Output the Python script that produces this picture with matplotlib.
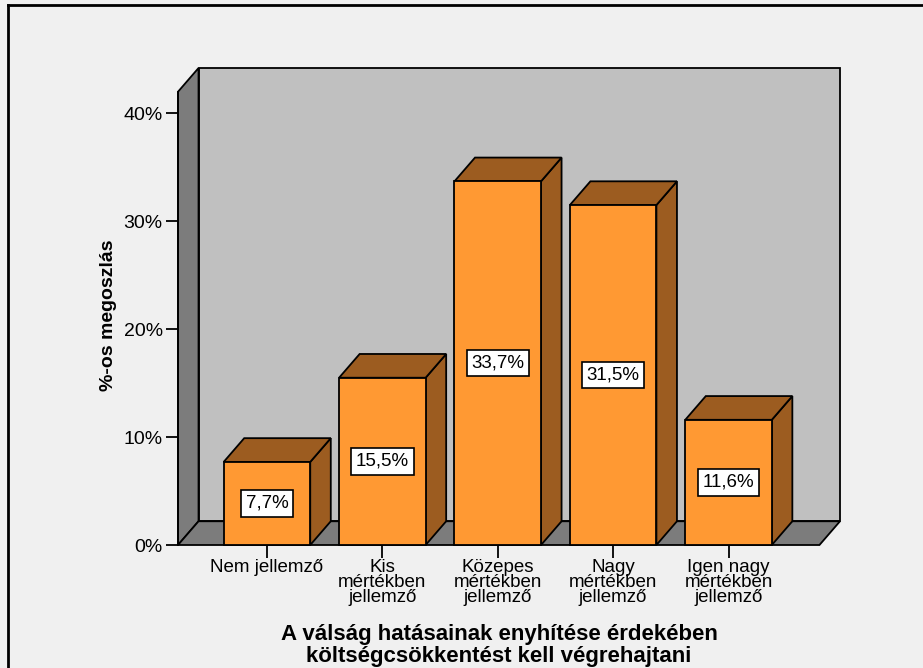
import matplotlib
matplotlib.use("Agg")
import matplotlib.pyplot as plt
from matplotlib.patches import Polygon, Rectangle
from matplotlib.lines import Line2D

plt.rcParams['font.family'] = ['Liberation Sans', 'DejaVu Sans']

categories = ["Nem jellemző",
              "Kis\nmértékben\njellemző",
              "Közepes\nmértékben\njellemző",
              "Nagy\nmértékben\njellemző",
              "Igen nagy\nmértékben\njellemző"]
values = [7.7, 15.5, 33.7, 31.5, 11.6]
value_labels = ["7,7%", "15,5%", "33,7%", "31,5%", "11,6%"]
y_ticks = [0, 10, 20, 30, 40]
y_ticklabels = ["0%", "10%", "20%", "30%", "40%"]
y_title = "%-os megoszlás"
x_title = "A válság hatásainak enyhítése érdekében\nköltségcsökkentést kell végrehajtani"

# fake 3D look: depth offset in data units
DX, DY = 0.178, 2.2
X0, X1 = -0.771, 4.788
YMAX = 42.0
BAR_W = 0.75

front = "#ff9933"
dark = "#9c5c20"
wall = "#c0c0c0"
side = "#7c7c7c"
lw = 1.3

fig = plt.figure(figsize=(9.23, 6.68), dpi=100, facecolor="#f0f0f0")
ax = fig.add_axes([178 / 923, 1 - 545 / 668, (840 - 178) / 923, (545 - 68) / 668])
ax.set_xlim(X0, X1 + DX)
ax.set_ylim(0, YMAX + DY)
ax.set_facecolor("none")
for s in ax.spines.values():
    s.set_visible(False)

# walls and floor
ax.add_patch(Rectangle((X0 + DX, DY), X1 - X0, YMAX, facecolor=wall,
                       edgecolor="black", lw=lw, clip_on=False))
ax.add_patch(Polygon([(X0, 0), (X0 + DX, DY), (X0 + DX, YMAX + DY), (X0, YMAX)],
                     facecolor=side, edgecolor="black", lw=lw, clip_on=False))
ax.add_patch(Polygon([(X0, 0), (X1, 0), (X1 + DX, DY), (X0 + DX, DY)],
                     facecolor=side, edgecolor="black", lw=lw, clip_on=False))

# bars
h = BAR_W / 2
for i, v in enumerate(values):
    ax.add_patch(Polygon([(i + h, 0), (i + h + DX, DY), (i + h + DX, v + DY), (i + h, v)],
                         facecolor=dark, edgecolor="black", lw=lw, clip_on=False))
    ax.add_patch(Polygon([(i - h, v), (i + h, v), (i + h + DX, v + DY), (i - h + DX, v + DY)],
                         facecolor=dark, edgecolor="black", lw=lw, clip_on=False))
ax.bar(range(len(values)), values, width=BAR_W, color=front, edgecolor="black",
       lw=lw, zorder=3, clip_on=False)
for i, v in enumerate(values):
    ax.text(i, v / 2, value_labels[i], ha="center", va="center", fontsize=13.5, zorder=5,
            bbox=dict(boxstyle="square,pad=0.25", fc="white", ec="black", lw=1.2))

# front axis line
ax.add_line(Line2D([X0, X0], [0, YMAX], color="black", lw=lw, clip_on=False))

ax.set_yticks(y_ticks)
ax.set_yticklabels(y_ticklabels, fontsize=14)
ax.set_xticks(range(len(categories)))
ax.set_xticklabels(categories, fontsize=13.5, linespacing=0.85)
ax.tick_params(axis="y", length=9, width=lw, pad=2)
ax.tick_params(axis="x", length=9, width=lw, pad=1)

ax.set_ylabel(y_title, fontsize=14, fontweight="bold")
ax.yaxis.set_label_coords(-0.092, 0.482)
ax.set_xlabel(x_title, fontsize=16, fontweight="bold", linespacing=1.05)
ax.xaxis.set_label_coords(0.485, -0.165)

# chart frame (top and left edges)
fig.add_artist(Line2D([8 / 923, 1], [1 - 5 / 668, 1 - 5 / 668], color="black", lw=2,
                      transform=fig.transFigure))
fig.add_artist(Line2D([8 / 923, 8 / 923], [0, 1 - 5 / 668], color="black", lw=2,
                      transform=fig.transFigure))

fig.savefig("out.png", dpi=100, facecolor=fig.get_facecolor())
